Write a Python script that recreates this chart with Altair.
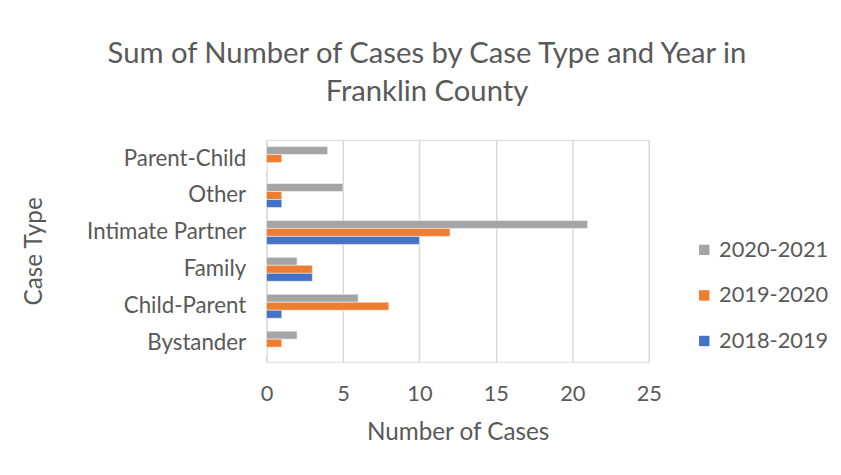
import altair as alt
import pandas as pd

categories = ["Parent-Child", "Other", "Intimate Partner", "Family", "Child-Parent", "Bystander"]
years = ["2020-2021", "2019-2020", "2018-2019"]
colors = ["#A5A5A5", "#ED7D31", "#4472C4"]
v_2020_2021 = [4, 5, 21, 2, 6, 2]
v_2019_2020 = [1, 1, 12, 3, 8, 1]
v_2018_2019 = [0, 1, 10, 3, 1, 0]

rows = []
for i, c in enumerate(categories):
    for y, vals in zip(years, [v_2020_2021, v_2019_2020, v_2018_2019]):
        rows.append({"Case Type": c, "Year": y, "Cases": vals[i]})
df = pd.DataFrame(rows)

FONT = "Lato"
GREY = "#595959"

chart = alt.Chart(df).mark_bar(stroke="white", strokeWidth=0.5).encode(
    x=alt.X("Cases:Q", scale=alt.Scale(domain=[0, 25]),
            axis=alt.Axis(values=[0, 5, 10, 15, 20, 25], title="Number of Cases",
                          grid=True, gridColor="#D9D9D9", gridWidth=1.5,
                          domain=False, ticks=False, labelPadding=22, labelFlush=False,
                          labelFontSize=22, labelColor=GREY, labelFont=FONT,
                          titleFontSize=24.5, titleColor=GREY, titleFont=FONT,
                          titleFontWeight="normal", titlePadding=16)),
    y=alt.Y("Case Type:N", sort=categories,
            scale=alt.Scale(paddingInner=0.35, paddingOuter=0.18),
            axis=alt.Axis(title="Case Type", domain=False, ticks=False,
                          labelPadding=21, labelFontSize=22.5, labelColor=GREY,
                          labelFont=FONT, titleFontSize=24.5, titleColor=GREY,
                          titleFont=FONT, titleFontWeight="normal", titlePadding=40)),
    yOffset=alt.YOffset("Year:N", sort=years),
    color=alt.Color("Year:N", sort=years,
                    scale=alt.Scale(domain=years, range=colors),
                    legend=alt.Legend(title=None, orient="none", legendX=431, legendY=100,
                                      symbolType="square", symbolSize=110,
                                      symbolStrokeWidth=0,
                                      labelFontSize=22, labelColor=GREY, labelFont=FONT,
                                      rowPadding=24, labelOffset=4)),
).properties(
    width=386,
    height=224,
    autosize=alt.AutoSizeParams(type="none"),
    padding={"left": 261, "top": 131, "right": 186, "bottom": 104},
    title=alt.TitleParams(["Sum of Number of Cases by Case Type and Year in", "Franklin County"],
                          fontSize=29.5, font=FONT, color=GREY, fontWeight="normal",
                          lineHeight=38, anchor="middle", dx=-31, offset=33),
).configure_view(stroke=None).configure(background="white")

chart.save("out.html", embed_options={"renderer": "svg", "actions": False})
